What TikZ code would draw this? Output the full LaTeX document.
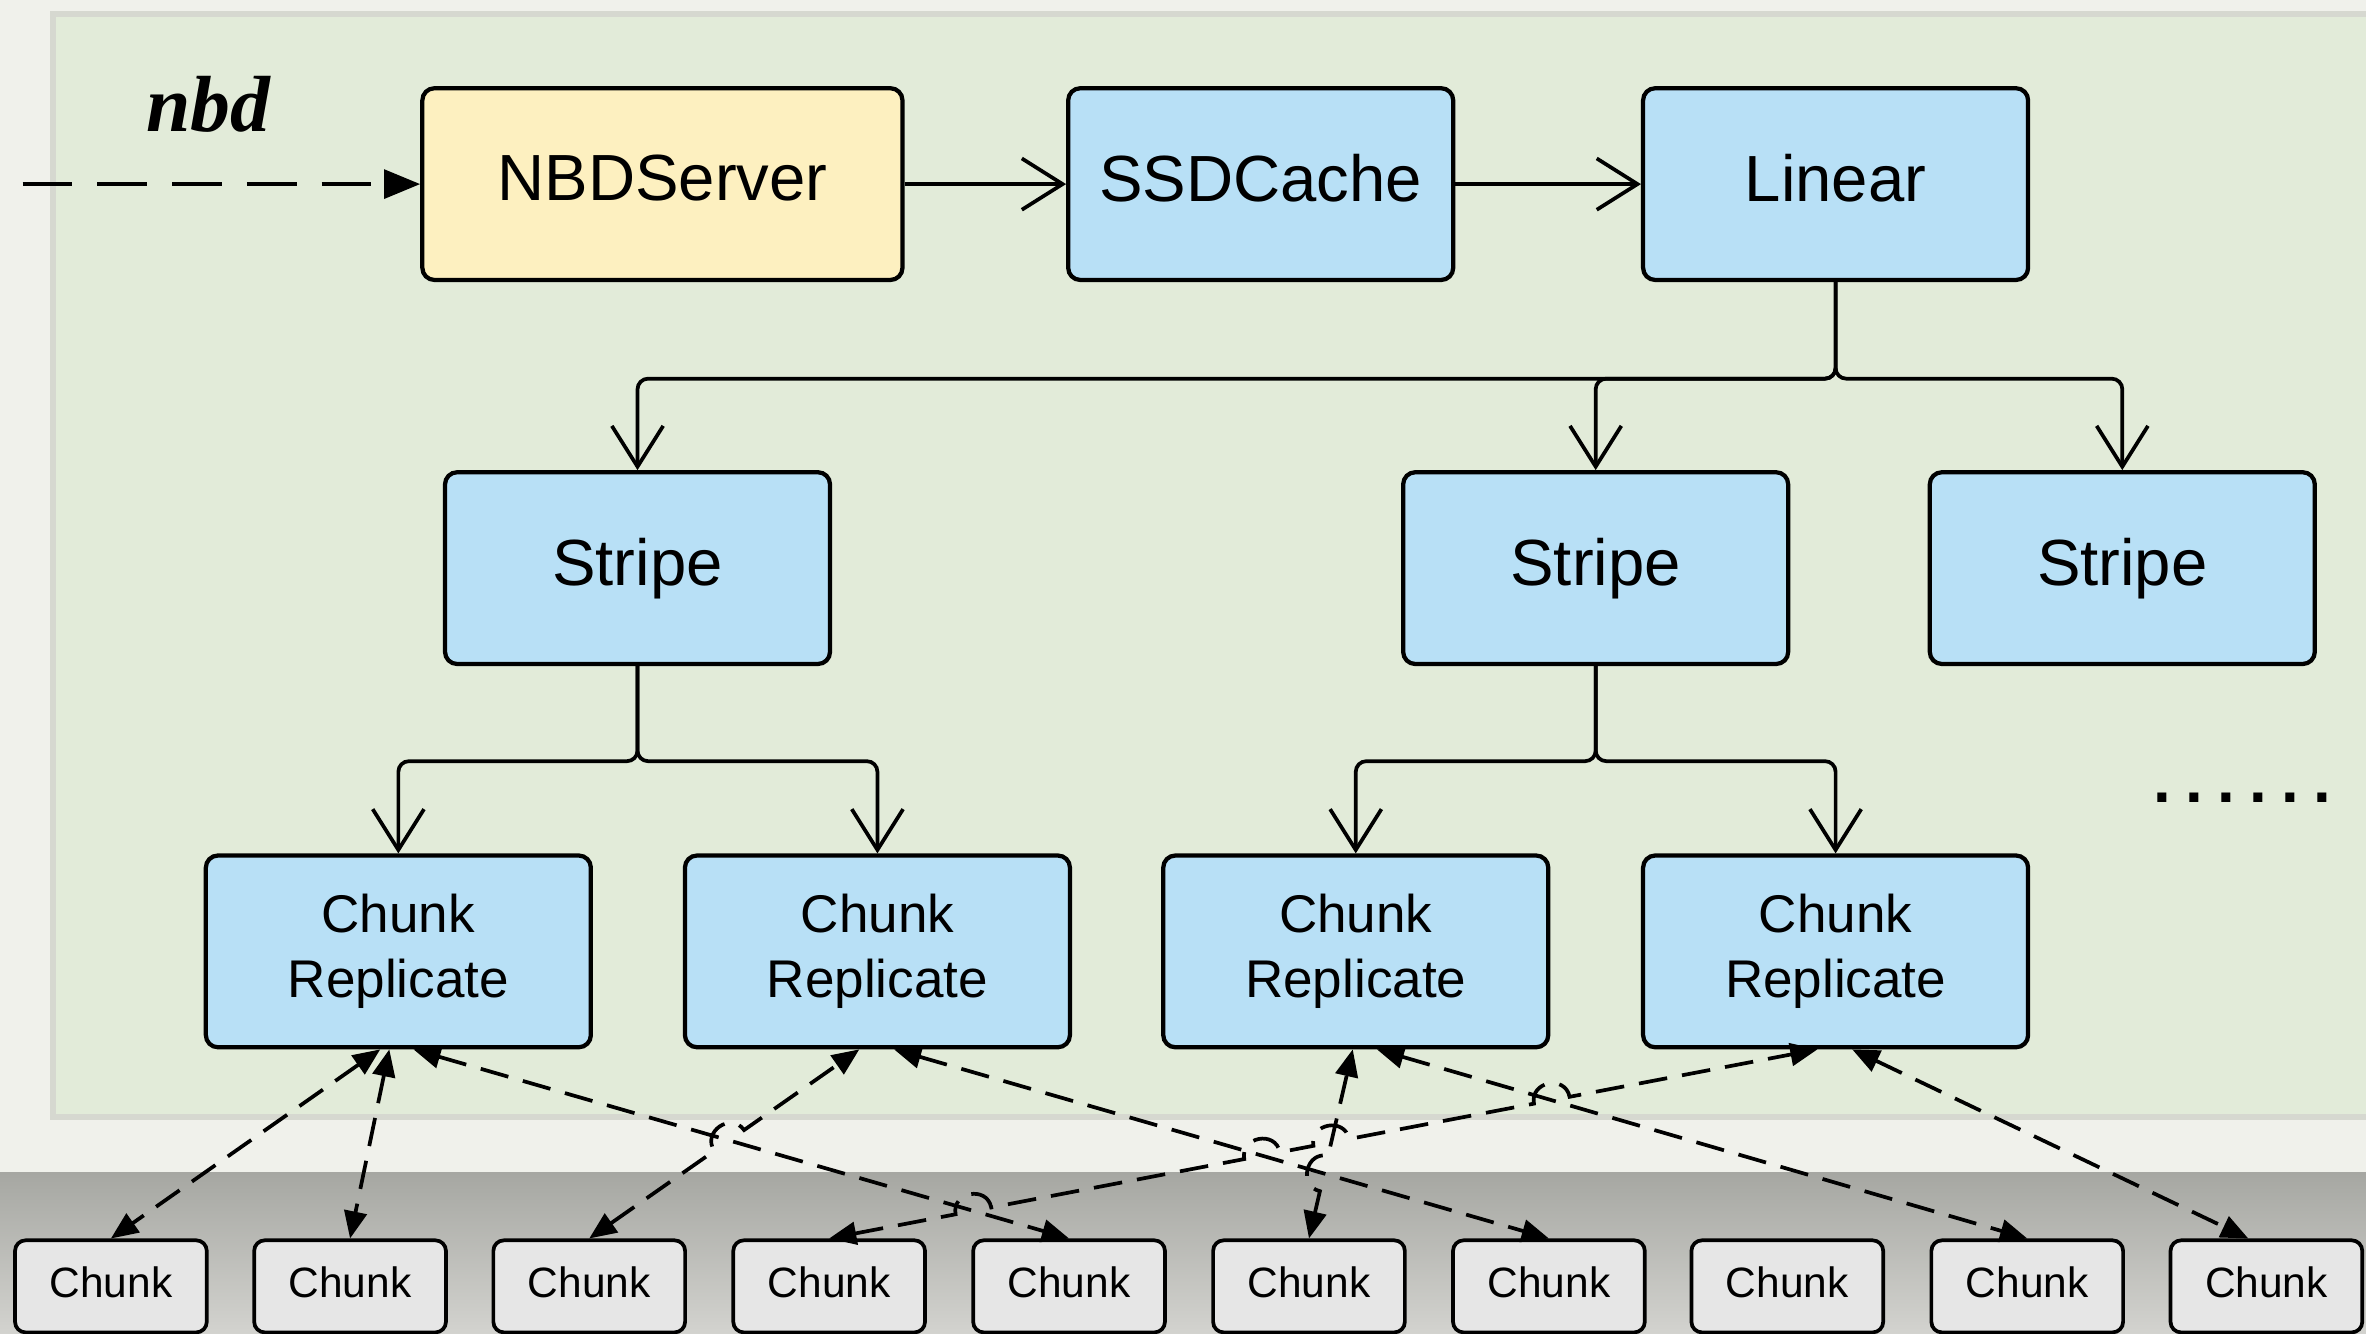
\documentclass[tikz,border=0pt]{standalone}
\usepackage{fontspec}
\setmainfont{Liberation Sans}
\newfontfamily\nbdfont{Liberation Serif}
\usetikzlibrary{arrows.meta,calc,intersections}
\definecolor{bgout}{HTML}{F0F1EB}
\definecolor{panelborder}{HTML}{D6D8D0}
\definecolor{panel}{HTML}{E2EBD9}
\definecolor{boxblue}{HTML}{B8E0F6}
\definecolor{boxyellow}{HTML}{FDF0C0}
\definecolor{chunkfill}{HTML}{E6E6E6}
\definecolor{bandtop}{HTML}{A6A7A2}
\definecolor{bandbot}{HTML}{D3D3CF}
\tikzset{
  box/.style={draw, line width=0.8pt, rounded corners=0.08cm, fill=boxblue,
    minimum width=2.55cm, minimum height=1.27cm, inner sep=0pt, align=center,
    text depth=0.25em, font=\fontsize{12.3}{14}\selectfont},
  crbox/.style={box, text depth=, font=\fontsize{10}{12.2}\selectfont},
  chunkbox/.style={draw, line width=0.7pt, rounded corners=0.07cm, fill=chunkfill,
    minimum width=1.27cm, minimum height=0.61cm, inner sep=0pt, text depth=0.15em,
    font=\fontsize{8}{9}\selectfont},
  openarrow/.style={line width=0.7pt, -{Straight Barb[length=2.7mm,width=3.4mm,line width=0.7pt]}},
  tree/.style={openarrow, rounded corners=0.07cm},
  dlink/.style={line width=0.7pt, dash pattern=on 1.9mm off 1.0mm,
    {Triangle[length=1.8mm,width=1.5mm]}-{Triangle[length=1.8mm,width=1.5mm]}},
}
% hop over crossing #1 while going from #2 towards #3
\newcommand{\hopat}[3]{-- ($(#1)!0.12cm!(#2)$) .. controls ($($(#1)!0.12cm!(#2)$)!0.15cm!90:(#1)$) and ($($(#1)!0.12cm!(#3)$)!0.15cm!-90:(#1)$) .. ($(#1)!0.12cm!(#3)$)}
\begin{document}
\begin{tikzpicture}[x=0.01cm,y=-0.01cm]
\useasboundingbox (0,0) rectangle (1568,884);
\fill[bgout] (0,0) rectangle (1568,884);
\fill[panelborder] (33,7) rectangle (1575,742);
\fill[panel] (37,11) rectangle (1575,738);
\shade[top color=bandtop,bottom color=bandbot] (0,777) rectangle (1568,884);

\node[font=\nbdfont\bfseries\itshape\fontsize{15}{18}\selectfont] (nbdlabel) at (138,69) {nbd};

\node[box, fill=boxyellow, minimum width=3.18cm] (NBD) at (439,122) {NBDServer};
\node[box] (SSD) at (835.5,122) {SSDCache};
\node[box] (LIN) at (1216.5,122) {Linear};

\node[box] (S1) at (422.5,376.5) {Stripe};
\node[box] (S2) at (1057.5,376.5) {Stripe};
\node[box] (S3) at (1406.5,376.5) {Stripe};

\node[crbox] (CR1) at (264,630.5) {Chunk\\Replicate};
\node[crbox] (CR2) at (581.5,630.5) {Chunk\\Replicate};
\node[crbox] (CR3) at (898.5,630.5) {Chunk\\Replicate};
\node[crbox] (CR4) at (1216.5,630.5) {Chunk\\Replicate};

\node[font=\bfseries\fontsize{12}{14}\selectfont] (dots) at (1486,529) {.\hspace{2.7pt}.\hspace{2.7pt}.\hspace{2.7pt}.\hspace{2.7pt}.\hspace{2.7pt}.};

\foreach \i/\x in {1/73.5,2/232,3/390.5,4/549.5,5/708.5,6/867.5,7/1026.5,8/1184.5,9/1343.5,10/1502}{
  \node[chunkbox] (C\i) at (\x,852.5) {Chunk};
}

% input
\coordinate (inp) at (0,122);
\draw[line width=0.8pt, dash pattern=on 3.3mm off 1.65mm, dash phase=3.45mm,
  -{Triangle[length=2.4mm,width=1.9mm]}] (inp) -- (NBD.west);

\draw[openarrow] (NBD) -- (SSD);
\draw[openarrow] (SSD) -- (LIN);

\draw[tree] (LIN.south) -- ++(0,64) -| (S1.north);
\draw[tree] (LIN.south) -- ++(0,64) -| (S2.north);
\draw[tree] (LIN.south) -- ++(0,64) -| (S3.north);

\draw[tree] (S1.south) -- ++(0,63) -| (CR1.north);
\draw[tree] (S1.south) -- ++(0,63) -| (CR2.north);
\draw[tree] (S2.south) -- ++(0,63) -| (CR3.north);
\draw[tree] (S2.south) -- ++(0,63) -| (CR4.north);

% replica end points on the Chunk Replicate boxes
\coordinate (r1a) at ([xshift=-1.2mm]CR1.south);
\coordinate (r1b) at ([xshift=-0.6mm]CR1.south);
\coordinate (r1c) at ([xshift=1.0mm]CR1.south);
\coordinate (r2a) at ([xshift=-1.2mm]CR2.south);
\coordinate (r2b) at ([xshift=1.1mm]CR2.south);
\coordinate (r3a) at ([xshift=-0.2mm]CR3.south);
\coordinate (r3b) at ([xshift=1.4mm]CR3.south);
\coordinate (r4a) at ([xshift=-1.2mm]CR4.south);
\coordinate (r4b) at ([xshift=1.1mm]CR4.south);
\coordinate (c10) at ([xshift=-1.2mm]C10.north);

\path[name path=l15] (r1c) -- (C5.north);
\path[name path=l23] (r2a) -- (C3.north);
\path[name path=l27] (r2b) -- (C7.north);
\path[name path=l36] (r3a) -- (C6.north);
\path[name path=l39] (r3b) -- (C9.north);
\path[name path=l44] (r4a) -- (C4.north);
\path[name intersections={of=l15 and l23, by=X1}];
\path[name intersections={of=l15 and l44, by=X2}];
\path[name intersections={of=l27 and l44, by=X3}];
\path[name intersections={of=l36 and l44, by=X4}];
\path[name intersections={of=l39 and l44, by=X5}];
\path[name intersections={of=l27 and l36, by=X6}];

\draw[dlink] (r1a) -- (C1.north);
\draw[dlink] (r1b) -- (C2.north);
\draw[dlink] (r1c) -- (C5.north);
\draw[dlink] (C3.north) \hopat{X1}{C3.north}{r2a} -- (r2a);
\draw[dlink] (r2b) -- (C7.north);
\draw[dlink] (C6.north) \hopat{X6}{C6.north}{r3a} -- (r3a);
\draw[dlink] (r3b) -- (C9.north);
\draw[dlink] (C4.north) \hopat{X2}{C4.north}{r4a} \hopat{X3}{C4.north}{r4a}
  \hopat{X4}{C4.north}{r4a} \hopat{X5}{C4.north}{r4a} -- (r4a);
\draw[dlink] (r4b) -- (c10);
\end{tikzpicture}
\end{document}
